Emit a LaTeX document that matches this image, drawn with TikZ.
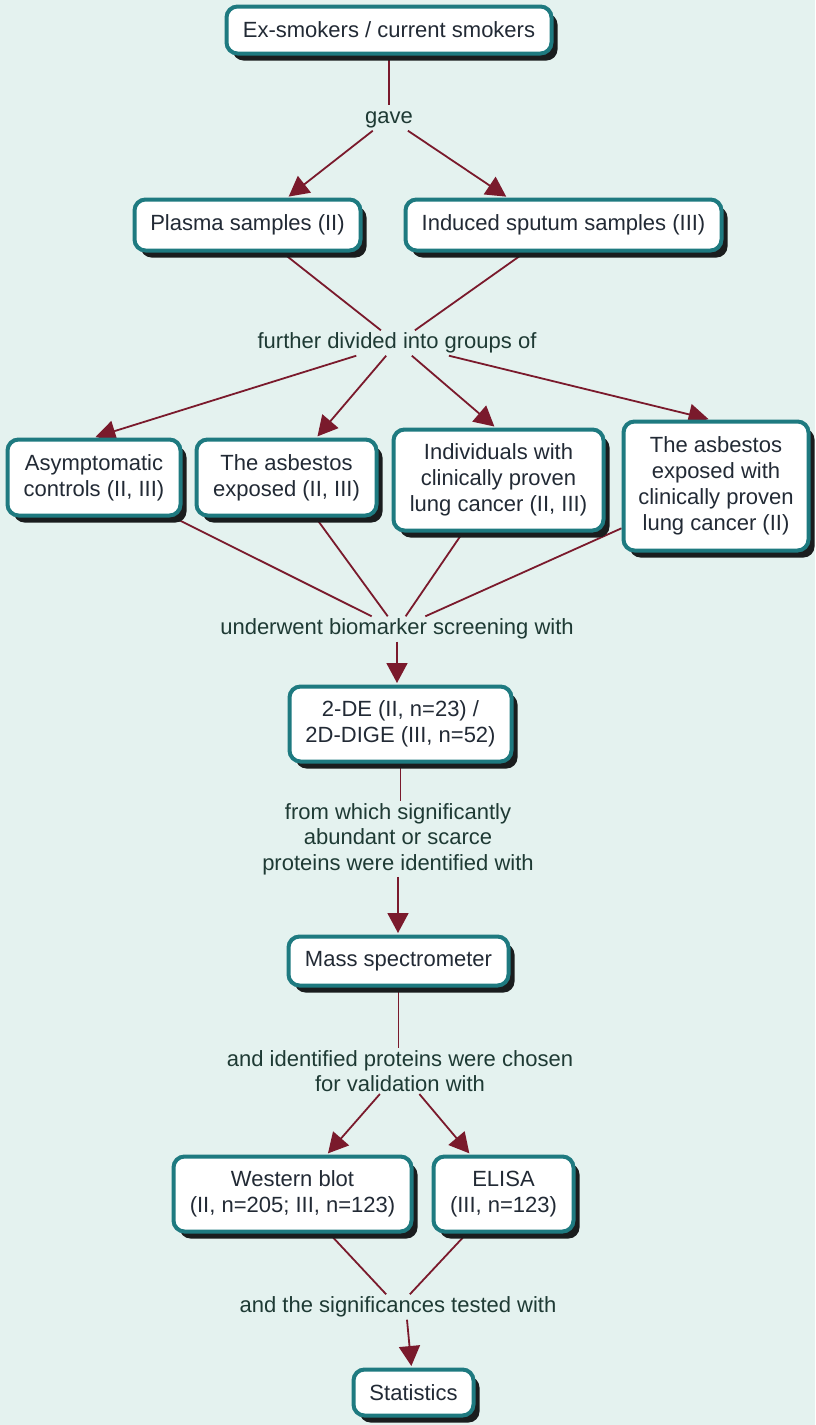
\documentclass[tikz,border=0pt]{standalone}
\usepackage{fontspec}
\setmainfont{Liberation Sans}
\usetikzlibrary{arrows.meta,shadows}
\definecolor{bgmint}{HTML}{E4F2EF}
\definecolor{boxedge}{HTML}{1E7A80}
\definecolor{linkred}{HTML}{7A1A2C}
\definecolor{boxtext}{HTML}{222A35}
\definecolor{labtext}{HTML}{1E3A34}
\definecolor{shade}{HTML}{1A1D1E}
\pgfdeclarelayer{back}
\pgfdeclarelayer{links}
\pgfsetlayers{back,links,main}
\tikzset{
  concept/.style={draw=boxedge, line width=4pt, fill=white, rounded corners=11pt,
    align=center, text=boxtext, inner sep=0pt,
    font=\fontsize{22}{26}\selectfont,
    drop shadow={shadow xshift=6pt, shadow yshift=-7pt, fill=shade, opacity=1}},
  linklabel/.style={align=center, text=labtext, inner sep=2pt,
    font=\fontsize{22}{25.5}\selectfont},
  oneline/.style={text height=16pt, text depth=5pt},
  link/.style={draw=linkred, line width=1.8pt},
  linkarrow/.style={link, -{Triangle[length=20pt,width=21pt]}, shorten >=1.5pt},
}
\begin{document}
\begin{tikzpicture}[x=1pt, y=-1pt]
\begin{pgfonlayer}{back}
  \fill[bgmint] (0,0) rectangle (815,1425);
\end{pgfonlayer}
\useasboundingbox (0,0) rectangle (815,1425);

% concepts
\node[concept, minimum width=325, minimum height=47] (smokers) at (389,30) {Ex-smokers / current smokers};
\node[concept, minimum width=226, minimum height=51] (plasma) at (247.5,225) {Plasma samples (II)};
\node[concept, minimum width=316, minimum height=51] (sputum) at (563.5,225) {Induced sputum samples (III)};
\node[concept, minimum width=173, minimum height=76] (asym) at (94,477.5) {Asymptomatic\\controls (II, III)};
\node[concept, minimum width=180, minimum height=76] (asbexp) at (286.5,477.5) {The asbestos\\exposed (II, III)};
\node[concept, minimum width=210, minimum height=101] (indiv) at (498.5,480) {Individuals with\\clinically proven\\lung cancer (II, III)};
\node[concept, minimum width=185, minimum height=129] (asblc) at (716,486) {The asbestos\\exposed with\\clinically proven\\lung cancer (II)};
\node[concept, minimum width=222, minimum height=75] (gel) at (400.5,724) {2-DE (II, n=23) /\\2D-DIGE (III, n=52)};
\node[concept, minimum width=220, minimum height=49] (mass) at (398.5,961) {Mass spectrometer};
\node[concept, minimum width=238, minimum height=75] (western) at (292.5,1194) {Western blot\\(II, n=205; III, n=123)};
\node[concept, minimum width=140, minimum height=75] (elisa) at (503.5,1194) {ELISA\\(III, n=123)};
\node[concept, minimum width=120, minimum height=46] (stats) at (413.5,1392.5) {Statistics};

% linking phrases
\node[linklabel, oneline] (gave) at (389,118) {gave};
\node[linklabel, oneline] (divided) at (397,343) {further divided into groups of};
\node[linklabel, oneline] (screening) at (397,629) {underwent biomarker screening with};
\node[linklabel] (identified) at (398,839) {from which significantly\\abundant or scarce\\proteins were identified with};
\node[linklabel] (chosen) at (400,1071) {and identified proteins were chosen\\for validation with};
\node[linklabel, oneline] (tested) at (398,1307) {and the significances tested with};

% connectors
\begin{pgfonlayer}{links}
  \draw[link] (smokers) -- (gave);
  \draw[linkarrow] (gave) -- ([xshift=40pt]plasma.north);
  \draw[linkarrow] (gave) -- ([xshift=-56pt]sputum.north);

  \draw[link] (plasma) -- (divided);
  \draw[link] (sputum) -- (divided);
  \draw[linkarrow] (divided) -- (asym.north);
  \draw[linkarrow] (divided) -- ([xshift=30pt]asbexp.north);
  \draw[linkarrow] (divided) -- ([xshift=-3pt]indiv.north);
  \draw[linkarrow] (divided) -- ([xshift=-6pt]asblc.north);

  \draw[link] (asym) -- (screening);
  \draw[link] (asbexp) -- (screening);
  \draw[link] (indiv) -- (screening);
  \draw[link] (asblc) -- (screening);
  \draw[linkarrow] (screening) -- (screening |- gel.north);

  \draw[link] (gel) -- (gel |- identified.north);
  \draw[linkarrow] (identified) -- (identified |- mass.north);

  \draw[link] (mass) -- (mass |- chosen.north);
  \draw[linkarrow] (chosen) -- (western);
  \draw[linkarrow] (chosen) -- (elisa);

  \draw[link] (western) -- (tested);
  \draw[link] (elisa) -- (tested);
  \draw[linkarrow] ([xshift=9pt]tested.south) -- ([xshift=-2pt]stats.north);
\end{pgfonlayer}
\end{tikzpicture}
\end{document}
